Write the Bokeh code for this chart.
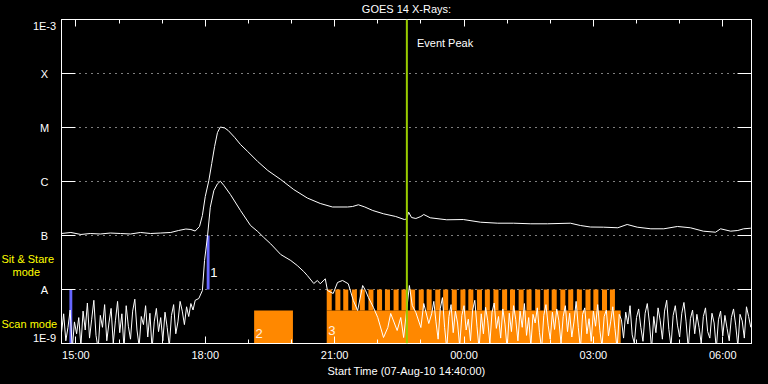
from bokeh.plotting import figure
from bokeh.layouts import row
from bokeh.models import (Range1d, LinearAxis, FixedTicker, Label, Span,
                          GlobalInlineStyleSheet)
from bokeh.core.properties import value
from bokeh.embed import file_html
from bokeh.resources import INLINE

# ---------------- data ----------------
# time axis: minutes since start time 07-Aug-10 14:40:00
x_ticks = [20, 200, 380, 560, 740, 920]
x_tick_labels = ["15:00", "18:00", "21:00", "00:00", "03:00", "06:00"]
x_minor_ticks = [80, 140, 260, 320, 440, 500, 620, 680, 800, 860]
y_ticks = [-9, -8, -7, -6, -5, -4, -3]           # log10 flux (W m^-2)
y_tick_labels = ["1E-9", "A", "B", "C", "M", "X", "1E-3"]

# GOES 14 long channel (1-8 A), log10 flux
long_t = [0, 13, 27, 40, 54, 68, 82, 96, 110, 124,
          138, 152, 163, 173, 180, 186, 192, 196, 200, 205,
          209, 213, 217, 221, 227, 232, 241, 249, 259, 273,
          287, 305, 323, 342, 360, 377, 398, 405, 413, 422,
          433, 448, 465, 477, 480, 483, 487, 493, 500, 504,
          513, 536, 559, 583, 607, 629, 653, 676, 708, 722,
          736, 754, 774, 787, 801, 820, 838, 857, 875, 893,
          910, 917, 931, 941, 949, 959]
long_f = [-6.963, -6.944, -6.981, -6.963, -6.972, -6.954, -6.963, -6.972, -6.944, -6.963,
          -6.954, -6.944, -6.907, -6.880, -6.889, -6.917, -6.833, -6.630, -6.278, -5.981,
          -5.667, -5.352, -5.093, -4.991, -5.009, -5.056, -5.185, -5.315, -5.444, -5.630,
          -5.796, -5.963, -6.148, -6.306, -6.407, -6.472, -6.472, -6.463, -6.431, -6.472,
          -6.537, -6.598, -6.648, -6.704, -6.694, -6.569, -6.667, -6.685, -6.648, -6.611,
          -6.672, -6.709, -6.704, -6.754, -6.772, -6.772, -6.783, -6.783, -6.772, -6.815,
          -6.843, -6.846, -6.857, -6.796, -6.846, -6.876, -6.876, -6.833, -6.857, -6.920,
          -6.939, -6.876, -6.920, -6.907, -6.876, -6.865]

# GOES 14 short channel (0.5-4 A), log10 flux
short_t = [0, 3, 6, 9, 12, 15, 18, 21, 24, 27,
           30, 33, 36, 39, 42, 45, 48, 51, 54, 57,
           60, 63, 66, 69, 72, 75, 78, 81, 84, 87,
           90, 93, 96, 99, 102, 105, 108, 111, 114, 117,
           120, 123, 126, 129, 132, 135, 138, 141, 144, 147,
           150, 153, 156, 159, 162, 165, 168, 171, 174, 177,
           180, 183, 186,
           191, 196, 199, 203, 207, 212, 217, 221, 226, 235,
           249, 263, 273, 281, 291, 305, 319, 328, 337, 342,
           351, 356, 360, 367, 370, 378, 384, 391, 399, 406,
           412, 419, 423, 427, 434, 440, 448, 454, 458, 467,
           472, 476, 484, 488, 493, 500, 504, 511,
           515, 518, 521, 524, 527, 530, 533, 536, 539, 542,
           545, 548, 551, 554, 557, 560, 563, 566, 569, 572,
           575, 578, 581, 584, 587, 590, 593, 596, 599, 602,
           605, 608, 611, 614, 617, 620, 623, 626, 629, 632,
           635, 638, 641, 644, 647, 650, 653, 656, 659, 662,
           665, 668, 671, 674, 677, 680, 683, 686, 689, 692,
           695, 698, 701, 704, 707, 710, 713, 716, 719, 722,
           725, 728, 731, 734, 737, 740, 743, 746, 749, 752,
           755, 758, 761, 764, 767, 770, 773, 776, 779, 782,
           785, 788, 791, 794, 797, 800, 803, 806, 809, 812,
           815, 818, 821, 824, 827, 830, 833, 836, 839, 842,
           845, 848, 851, 854, 857, 860, 863, 866, 869, 872,
           875, 878, 881, 884, 887, 890, 893, 896, 899, 902,
           905, 908, 911, 914, 917, 920, 923, 926, 929, 932,
           935, 938, 941, 944, 947, 950, 953, 956, 959]
short_f = [-8.80, -8.45, -8.95, -8.70, -8.38, -9.10, -8.60, -8.82, -8.52, -9.05,
           -8.40, -8.75, -8.25, -8.90, -8.55, -8.20, -8.85, -9.10, -8.48, -8.70,
           -8.28, -8.95, -8.62, -8.35, -9.00, -8.58, -8.22, -8.80, -8.45, -9.10,
           -8.30, -8.68, -8.92, -8.40, -8.18, -8.75, -9.05, -8.50, -8.65, -8.30,
           -8.88, -8.44, -9.10, -8.60, -8.35, -8.78, -8.52, -8.95, -8.42, -8.70,
           -9.05, -8.48, -8.28, -8.82, -8.60, -8.22, -8.40, -8.65, -8.32, -8.50,
           -8.26, -8.38, -8.20,
           -8.167, -8.019, -7.463, -7.031, -6.476, -6.167, -6.043, -5.994, -6.074, -6.241,
           -6.537, -6.815, -6.926, -7.031, -7.154, -7.352, -7.463, -7.556, -7.667, -7.741,
           -7.889, -7.833, -7.894, -7.802, -8.019, -8.074, -7.870, -7.833, -7.894, -8.204,
           -8.389, -7.926, -8.019, -8.148, -8.333, -8.519, -8.889, -8.704, -8.444, -8.759,
           -8.519, -8.889, -7.926, -8.296, -8.426, -8.704, -8.259, -8.630,
           -8.45, -8.22, -8.60, -8.92, -8.35, -8.15, -8.70, -9.10, -8.50, -8.28,
           -8.80, -8.40, -8.62, -9.05, -8.48, -8.30, -8.75, -8.55, -8.95, -8.38,
           -8.20, -8.68, -9.10, -8.45, -8.82, -8.33, -8.58, -9.00, -8.42, -8.25,
           -8.72, -8.50, -8.90, -8.36, -8.64, -9.10, -8.44, -8.78, -8.30, -8.56,
           -8.95, -8.40, -8.70, -8.26, -8.85, -8.52, -9.05, -8.46, -8.62, -8.34,
           -8.80, -9.10, -8.48, -8.28, -8.66, -8.92, -8.42, -8.74, -8.36, -8.58,
           -9.00, -8.50, -8.30, -8.78, -8.44, -8.88, -8.60, -8.22, -8.70, -9.10,
           -8.46, -8.34, -8.82, -8.54, -8.96, -8.40, -8.68, -8.28, -8.76, -9.05,
           -8.50, -8.38, -8.86, -8.60, -8.32, -8.72, -9.10, -8.46, -8.56, -8.90,
           -8.42, -8.64, -8.30, -8.84, -9.00, -8.52, -8.36, -8.70, -8.96, -8.44,
           -8.26, -8.62, -9.10, -8.50, -8.80, -8.34, -8.58, -8.92, -8.40, -8.20,
           -8.74, -9.05, -8.48, -8.30, -8.66, -8.88, -8.44, -8.24, -8.60, -9.10,
           -8.54, -8.38, -8.82, -8.46, -8.70, -9.00, -8.50, -8.34, -8.78, -8.90,
           -8.44, -8.62, -9.10, -8.56, -8.40, -8.86, -8.48, -8.72, -8.95, -8.52,
           -8.36, -8.66, -9.05, -8.46, -8.58, -8.90, -8.32, -8.50, -8.70]

# observing modes
mode_names = ["Sit & Stare", "mode", "Scan mode"]
mode_name_y = [-7.444, -7.68, -8.648]

sit_start = [11, 202]
sit_end = [15, 206]
sit_low = [-9, -8]
sit_high = [-8, -7]
sit_labels = ["", "1"]

scan_start = [268, 369]
scan_end = [322, 778]
scan_labels = ["2", "3"]
scan_level = -8.39
scan_teeth = [369, 381, 392, 404, 415, 427, 439, 450, 462, 473,
              485, 497, 508, 520, 531, 543, 555, 566, 578, 589,
              601, 613, 624, 636, 647, 659, 671, 682, 694, 705,
              717, 729, 740, 752, 763]
tooth_width = 7

event_peak = 480.5

# ---------------- styling ----------------
FONT = "Liberation Sans"
WHITE = "white"
ORANGE = "#ff8800"
BLUE = "#6666ff"
YEL = "#ffff00"
TOP_PX, BOTTOM_PX = 19, 41

# ---------------- left margin panel (class and mode labels) ----------------
side = figure(width=60, height=384, output_backend="svg", toolbar_location=None,
              x_range=Range1d(0, 60), y_range=Range1d(min(y_ticks), max(y_ticks)),
              min_border_left=0, min_border_right=0, min_border_top=TOP_PX,
              min_border_bottom=BOTTOM_PX,
              x_axis_location=None, y_axis_location=None,
              background_fill_color="black", border_fill_color="black",
              outline_line_color=None)
side.xgrid.visible = False
side.ygrid.visible = False
side.stylesheets = [GlobalInlineStyleSheet(css="body { background-color: black; }")]

mid_t = y_ticks[1:-1]
mid_l = y_tick_labels[1:-1]
side.text(x=[44] * len(mid_t), y=mid_t, text=mid_l, text_align="center",
          text_baseline="middle", text_color=WHITE, text_font=value(FONT),
          text_font_size="11px")
side.text(x=[44], y=[max(y_ticks)], text=[y_tick_labels[-1]], text_align="center",
          text_baseline="top", text_color=WHITE, text_font=value(FONT), text_font_size="11px")
side.text(x=[44], y=[min(y_ticks)], text=[y_tick_labels[0]], text_align="center",
          text_baseline="bottom", text_color=WHITE, text_font=value(FONT), text_font_size="11px")
side.text(x=[1, 12, 1], y=mode_name_y, text=mode_names, text_align="left",
          text_baseline="middle", text_color=YEL, text_font=value(FONT),
          text_font_size="11px")

# ---------------- main plot ----------------
p = figure(width=708, height=384, output_backend="svg", toolbar_location=None,
           x_range=Range1d(0, 960), y_range=Range1d(min(y_ticks), max(y_ticks)),
           min_border_left=1, min_border_right=17, min_border_top=TOP_PX,
           min_border_bottom=BOTTOM_PX,
           background_fill_color="black", border_fill_color="black",
           outline_line_color=WHITE, outline_line_width=1)

p.title.text = "GOES 14 X-Rays:"
p.title.align = "center"
p.title.vertical_align = "top"
p.title.text_color = WHITE
p.title.text_font = FONT
p.title.text_font_size = "11px"
p.title.text_font_style = "normal"
p.title.standoff = 5
p.title.offset = 0

# bottom axis
p.xaxis.ticker = FixedTicker(ticks=x_ticks, minor_ticks=x_minor_ticks)
p.xaxis.major_label_overrides = dict(zip(x_ticks, x_tick_labels))
p.xaxis.axis_label = "Start Time (07-Aug-10 14:40:00)"
for ax in p.xaxis:
    ax.axis_line_color = WHITE
    ax.major_tick_line_color = WHITE
    ax.minor_tick_line_color = WHITE
    ax.major_tick_in = 7
    ax.major_tick_out = 0
    ax.minor_tick_in = 4
    ax.minor_tick_out = 0
    ax.major_label_text_color = WHITE
    ax.major_label_text_font = FONT
    ax.major_label_text_font_size = "11px"
    ax.major_label_standoff = 5
    ax.axis_label_text_color = WHITE
    ax.axis_label_text_font = FONT
    ax.axis_label_text_font_size = "11px"
    ax.axis_label_text_font_style = "normal"
    ax.axis_label_standoff = 1

top_axis = LinearAxis(ticker=FixedTicker(ticks=x_ticks, minor_ticks=x_minor_ticks),
                      axis_line_color=WHITE, major_tick_line_color=WHITE,
                      minor_tick_line_color=WHITE, major_tick_in=7, major_tick_out=0,
                      minor_tick_in=4, minor_tick_out=0,
                      major_label_text_font_size="0px", major_label_text_color=None,
                      major_label_standoff=0)
p.add_layout(top_axis, "above")

# left axis: ticks only (labels live in the side panel)
p.yaxis.ticker = FixedTicker(ticks=y_ticks, minor_ticks=[])
for ax in p.yaxis:
    ax.axis_line_color = WHITE
    ax.major_tick_line_color = WHITE
    ax.minor_tick_line_color = None
    ax.major_tick_in = 14
    ax.major_tick_out = 0
    ax.major_label_text_font_size = "0px"
    ax.major_label_text_color = None
    ax.major_label_standoff = 0

right_axis = LinearAxis(ticker=FixedTicker(ticks=y_ticks, minor_ticks=[]),
                        axis_line_color=WHITE, major_tick_line_color=WHITE,
                        minor_tick_line_color=None, major_tick_in=14, major_tick_out=0,
                        major_label_text_font_size="0px", major_label_text_color=None,
                        major_label_standoff=0)
p.add_layout(right_axis, "right")

p.xgrid.visible = False
p.ygrid.grid_line_color = WHITE
p.ygrid.grid_line_dash = "1 5"
p.ygrid.grid_line_width = 1

# observing mode bars
p.quad(left=scan_start, right=scan_end, bottom=min(y_ticks), top=scan_level,
       fill_color=ORANGE, line_color=None)
p.quad(left=scan_teeth, right=[t + tooth_width for t in scan_teeth],
       bottom=scan_level, top=-8, fill_color=ORANGE, line_color=None)
p.quad(left=sit_start, right=sit_end, bottom=sit_low, top=sit_high,
       fill_color=BLUE, line_color=None)

# light curves
p.line(long_t, long_f, line_color=WHITE, line_width=1)
p.line(short_t, short_f, line_color=WHITE, line_width=1)

# event peak
p.add_layout(Span(location=event_peak, dimension="height", line_color="#99cc00", line_width=2))
p.add_layout(Label(x=event_peak + 14, y=-3.444, text="Event Peak", text_baseline="middle",
                   text_color=WHITE, text_font=FONT, text_font_size="11px"))

# segment labels
p.add_layout(Label(x=sit_end[1] + 1, y=-7.685, text=sit_labels[1], text_baseline="middle",
                   text_color=WHITE, text_font=FONT, text_font_size="13px"))
p.add_layout(Label(x=scan_start[0] + 2, y=-8.815, text=scan_labels[0], text_baseline="middle",
                   text_color="#fff0e0", text_font=FONT, text_font_size="13px"))
p.add_layout(Label(x=scan_start[1] + 2, y=-8.76, text=scan_labels[1], text_baseline="middle",
                   text_color="#fff0e0", text_font=FONT, text_font_size="13px"))

layout = row(side, p, spacing=0)
open("out.html", "w").write(file_html(layout, INLINE))
